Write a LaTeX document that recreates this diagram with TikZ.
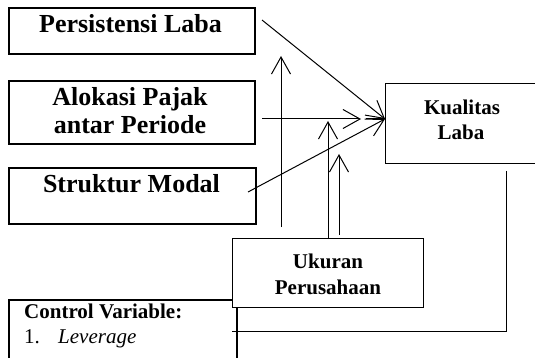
\documentclass[tikz,border=0pt]{standalone}
\usepackage{fontspec}
\setmainfont{Liberation Serif}
\usetikzlibrary{arrows.meta}
\begin{document}
\begin{tikzpicture}[x=1pt,y=-1pt,
  thickbox/.style={draw, line width=2pt, inner sep=0pt, anchor=north west},
  thinbox/.style={draw, line width=1pt, fill=white, inner sep=0pt, anchor=north west},
  conn/.style={line width=1pt},
  arr/.style={conn, -{Straight Barb[length=17pt,width=19pt,line width=1pt]}},
  bigtxt/.style={font=\fontsize{26}{28}\selectfont\bfseries, anchor=base, inner sep=0pt},
  midtxt/.style={font=\fontsize{21}{25}\selectfont\bfseries, anchor=base, inner sep=0pt},
  cvtxt/.style={font=\fontsize{21}{25}\selectfont, anchor=base west, inner sep=0pt}]
\useasboundingbox (0,0) rectangle (535,358);

% left boxes
\node[thickbox, minimum width=246pt, minimum height=46pt] (pl) at (8,7) {};
\node[bigtxt] (plt) at (130.5,33) {Persistensi Laba};

\node[thickbox, minimum width=246pt, minimum height=63pt] (ap) at (8,80) {};
\node[bigtxt] (apt1) at (130,106) {Alokasi Pajak};
\node[bigtxt] (apt2) at (130,134) {antar Periode};

\node[thickbox, minimum width=247pt, minimum height=56pt] (sm) at (8,167) {};
\node[bigtxt] (smt) at (131.5,193) {Struktur Modal};

% control variable box
\node[thickbox, minimum width=228pt, minimum height=75pt] (cv) at (8,299) {};
\node[cvtxt, font=\fontsize{21}{25}\selectfont\bfseries] (cvt) at (24,318) {Control Variable:};
\node[cvtxt] (cvn) at (24,343) {1.};
\node[cvtxt, font=\fontsize{21}{25}\selectfont\itshape] (cvl) at (58,343) {Leverage};

% kualitas laba
\node[thinbox, minimum width=160pt, minimum height=80pt] (kl) at (385,83) {};
\node[midtxt] (klt1) at (462,115) {Kualitas};
\node[midtxt] (klt2) at (461,140) {Laba};

% ukuran perusahaan
\node[thinbox, minimum width=191pt, minimum height=69pt] (up) at (232,238) {};
\node[midtxt] (upt1) at (328,268) {Ukuran};
\node[midtxt] (upt2) at (328,294) {Perusahaan};

% connector coordinates
\coordinate (tip) at (385,119);
\coordinate (s1) at (262,20);
\coordinate (s2) at (262,119);
\coordinate (m2) at (361,119);
\coordinate (m2b) at (366,119);
\coordinate (s3) at (248,192);
\coordinate (v1s) at (281,227);
\coordinate (v1e) at (281,56);
\coordinate (v2s) at (328,239);
\coordinate (v2e) at (328,121);
\coordinate (v3s) at (339,235);
\coordinate (v3e) at (339,154);
\coordinate (fb1) at (506,171);
\coordinate (fb2) at (232,331);

\draw[arr] (s1) -- (tip);
\draw[arr] (s2) -- (m2);
\draw[conn] (m2b) -- (tip);
\draw[arr] (s3) -- (tip);
\draw[arr] (v1s) -- (v1e);
\draw[arr] (v2s) -- (v2e);
\draw[arr] (v3s) -- (v3e);
\draw[conn] (fb1) |- (fb2);
\end{tikzpicture}
\end{document}
